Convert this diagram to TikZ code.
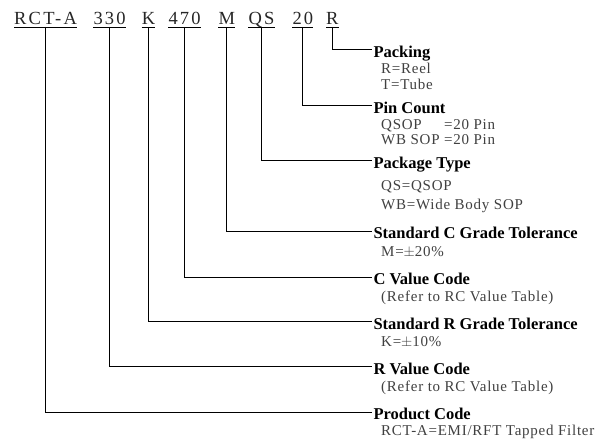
\documentclass[tikz,border=0pt]{standalone}
\usepackage{fontspec}
\usepackage{calc}
\setmainfont{Liberation Serif}
\newfontfamily\codefont[LetterSpace=12]{Liberation Serif}
\newfontfamily\subfont[LetterSpace=5]{Liberation Serif}
\usetikzlibrary{positioning}

\begin{document}
\begin{tikzpicture}[x=1pt, y=-1pt,
	code/.style={inner sep=0pt, text height=12pt, text depth=2.5pt, anchor=base west, text=black!85, font=\codefont\fontsize{18.5}{20}\selectfont},
	title/.style={inner sep=0pt, outer xsep=1.5pt, text height=15pt, text depth=0pt, anchor=base west, font=\bfseries\fontsize{16.5}{18}\selectfont},
	sub/.style={inner sep=0pt, anchor=base west, text=black!75, font=\subfont\fontsize{15}{17}\selectfont},
	leader/.style={line width=0.8pt, black}]
	
	\useasboundingbox (0,0) rectangle (614,443);
	
	% Part number
	\node[code] (prod) at (14,24.3) {RCT-A};
	\node[code] (rval) at (93.3,24.3) {330};
	\node[code] (rtol) at (141.7,24.3) {K};
	\node[code] (cval) at (168.3,24.3) {470};
	\node[code] (ctol) at (218.3,24.3) {M};
	\node[code] (pkg) at (248.3,24.3) {QS};
	\node[code] (pins) at (292.3,24.3) {20};
	\node[code] (pack) at (326,24.3) {R};
	
	% Underlines
	\draw[leader] (prod.south west) -- (prod.south east);
	\draw[leader] (rval.south west) -- (rval.south east);
	\draw[leader] (rtol.south west) -- (rtol.south east);
	\draw[leader] (cval.south west) -- (cval.south east);
	\draw[leader] (ctol.south west) -- (ctol.south east);
	\draw[leader] (pkg.south west) -- (pkg.south east);
	\draw[leader] (pins.south west) -- (pins.south east);
	\draw[leader] (pack.south west) -- (pack.south east);
	
	% Packing
	\node[title] (packT) at (372,57.3) {Packing};
	\node[sub] at (381,74) {R=Reel};
	\node[sub] at (381,90) {T=Tube};
	
	% Pin count
	\node[title] (pinsT) at (372,113.3) {Pin Count};
	\node[sub] at (381,129.5) {\makebox[\widthof{WB SOP }][l]{QSOP}=20 Pin};
	\node[sub] at (381,144.5) {WB SOP =20 Pin};
	
	% Package type
	\node[title] (pkgT) at (372,168.3) {Package Type};
	\node[sub] at (381,190.5) {QS=QSOP};
	\node[sub] at (381,210) {WB=Wide Body SOP};
	
	% C tolerance
	\node[title] (ctolT) at (372,238.5) {Standard C Grade Tolerance};
	\node[sub] at (381,257) {M=$\pm$20\%};
	
	% C value
	\node[title] (cvalT) at (372,284.5) {C Value Code};
	\node[sub] at (381,302) {(Refer to RC Value Table)};
	
	% R tolerance
	\node[title] (rtolT) at (372,329.3) {Standard R Grade Tolerance};
	\node[sub] at (381,346.5) {K=$\pm$10\%};
	
	% R value
	\node[title] (rvalT) at (372,374.3) {R Value Code};
	\node[sub] at (381,391.5) {(Refer to RC Value Table)};
	
	% Product code
	\node[title] (prodT) at (372,420) {Product Code};
	\node[sub] at (381,436) {RCT-A=EMI/RFT Tapped Filter};
	
	% Leaders
	\draw[leader] (pack.south) |- (packT.west);
	\draw[leader] (pins.south) |- (pinsT.west);
	\draw[leader] (pkg.south) |- (pkgT.west);
	\draw[leader] (ctol.south) |- (ctolT.west);
	\draw[leader] (cval.south) |- (cvalT.west);
	\draw[leader] (rtol.south) |- (rtolT.west);
	\draw[leader] (rval.south) |- (rvalT.west);
	\draw[leader] (prod.south) |- (prodT.west);
	
\end{tikzpicture}
\end{document}
